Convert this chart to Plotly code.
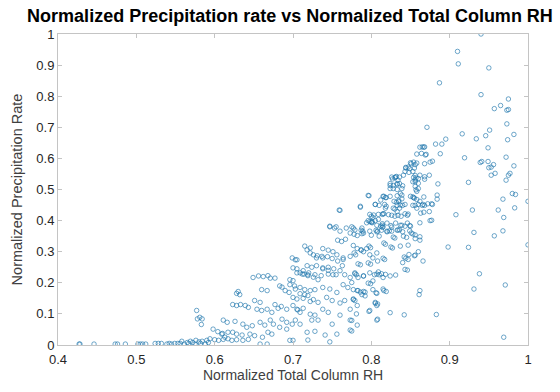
import plotly.graph_objects as go

# (RH, precipitation) pairs, grouped by region
tail_pts = [
    (0.427, 0.003), (0.428, 0.003), (0.446, 0.003), (0.473, 0.003), (0.476, 0.003), (0.486, 0.003),
    (0.502, 0.003), (0.505, 0.003), (0.508, 0.003), (0.512, 0.003), (0.524, 0.005), (0.528, 0.005),
    (0.532, 0.005), (0.539, 0.003), (0.542, 0.005), (0.545, 0.003), (0.549, 0.005), (0.553, 0.005),
    (0.558, 0.012), (0.565, 0.008), (0.569, 0.012), (0.572, 0.008), (0.576, 0.015), (0.580, 0.010),
    (0.584, 0.012), (0.590, 0.015), (0.556, 0.005), (0.561, 0.003), (0.567, 0.005), (0.575, 0.003),
    (0.582, 0.005), (0.588, 0.003), (0.592, 0.008),
]

onset_pts = [
    (0.577, 0.111), (0.581, 0.089), (0.584, 0.084), (0.578, 0.084), (0.583, 0.066),
    (0.594, 0.020), (0.600, 0.017), (0.605, 0.015), (0.611, 0.018), (0.617, 0.020), (0.622, 0.015),
    (0.628, 0.017), (0.636, 0.015), (0.643, 0.018),
    (0.598, 0.051), (0.604, 0.043), (0.610, 0.037), (0.617, 0.041), (0.623, 0.041), (0.628, 0.035),
    (0.635, 0.032), (0.645, 0.035), (0.651, 0.030), (0.661, 0.025), (0.668, 0.041), (0.673, 0.035),
    (0.658, 0.003), (0.667, 0.003), (0.696, 0.015), (0.700, 0.015), (0.728, 0.044),
    (0.611, 0.080), (0.616, 0.073), (0.626, 0.076), (0.636, 0.067), (0.641, 0.057), (0.648, 0.062),
    (0.658, 0.073), (0.664, 0.064), (0.671, 0.080), (0.675, 0.067), (0.686, 0.083), (0.692, 0.073),
    (0.683, 0.057), (0.692, 0.051), (0.703, 0.080), (0.709, 0.067),
    (0.609, 0.035), (0.613, 0.025),
    (0.623, 0.130), (0.628, 0.127), (0.633, 0.130), (0.639, 0.127), (0.643, 0.121), (0.651, 0.143),
    (0.658, 0.137), (0.654, 0.115), (0.660, 0.111), (0.667, 0.115), (0.673, 0.105), (0.677, 0.130),
    (0.681, 0.118), (0.685, 0.124), (0.692, 0.115), (0.700, 0.127), (0.706, 0.113), (0.713, 0.118),
    (0.630, 0.172), (0.632, 0.162), (0.628, 0.166), (0.660, 0.178), (0.667, 0.175), (0.683, 0.190),
    (0.686, 0.186), (0.690, 0.175), (0.695, 0.169), (0.703, 0.180), (0.709, 0.165), (0.715, 0.162),
    (0.719, 0.159),
    (0.649, 0.217), (0.671, 0.215), (0.677, 0.215), (0.696, 0.210), (0.700, 0.207), (0.703, 0.274),
    (0.709, 0.232), (0.714, 0.228), (0.719, 0.226), (0.656, 0.222), (0.662, 0.220), (0.668, 0.223),
    (0.699, 0.280), (0.705, 0.274),
]

core_pts = [
    (0.747, 0.380), (0.753, 0.376), (0.760, 0.366), (0.773, 0.360), (0.778, 0.356), (0.782, 0.352),
    (0.788, 0.358), (0.796, 0.400), (0.800, 0.395), (0.805, 0.400), (0.809, 0.404), (0.814, 0.390),
    (0.790, 0.360), (0.800, 0.353), (0.810, 0.350),
    (0.757, 0.337), (0.762, 0.333), (0.767, 0.340), (0.777, 0.320),
    (0.715, 0.318), (0.722, 0.312), (0.738, 0.310), (0.745, 0.305), (0.751, 0.300),
    (0.782, 0.310), (0.787, 0.305), (0.794, 0.310),
    (0.726, 0.290), (0.730, 0.280), (0.737, 0.285), (0.756, 0.290), (0.764, 0.280), (0.773, 0.285),
    (0.798, 0.290), (0.802, 0.280), (0.808, 0.270),
    (0.700, 0.248), (0.705, 0.245), (0.713, 0.239), (0.719, 0.223), (0.726, 0.218), (0.732, 0.210),
    (0.738, 0.248), (0.745, 0.240), (0.751, 0.226), (0.760, 0.239), (0.766, 0.226), (0.773, 0.217),
    (0.779, 0.232), (0.783, 0.217), (0.790, 0.222), (0.798, 0.232), (0.804, 0.226), (0.809, 0.235),
    (0.815, 0.217), (0.824, 0.222),
    (0.696, 0.194), (0.702, 0.190), (0.709, 0.185), (0.715, 0.178), (0.722, 0.175), (0.728, 0.178),
    (0.738, 0.185), (0.747, 0.180), (0.756, 0.169), (0.764, 0.194), (0.770, 0.185), (0.777, 0.178),
    (0.782, 0.175), (0.788, 0.162), (0.792, 0.170), (0.802, 0.178), (0.806, 0.168), (0.815, 0.180),
    (0.700, 0.153), (0.705, 0.148), (0.713, 0.150), (0.722, 0.140), (0.726, 0.146), (0.732, 0.137),
    (0.743, 0.153), (0.750, 0.143), (0.760, 0.135), (0.766, 0.143), (0.777, 0.146), (0.782, 0.127),
    (0.805, 0.137), (0.807, 0.127),
    (0.705, 0.115), (0.709, 0.105), (0.722, 0.099), (0.728, 0.096), (0.738, 0.115), (0.745, 0.105),
    (0.760, 0.096), (0.773, 0.115), (0.798, 0.111),
    (0.699, 0.067), (0.724, 0.080), (0.732, 0.080), (0.750, 0.067), (0.773, 0.080), (0.782, 0.064),
    (0.807, 0.080), (0.718, 0.041), (0.741, 0.032), (0.756, 0.035), (0.773, 0.048), (0.719, 0.016),
    (0.747, 0.010),
    (0.722, 0.296), (0.718, 0.306), (0.731, 0.287), (0.738, 0.280), (0.744, 0.284), (0.750, 0.278),
    (0.757, 0.270), (0.764, 0.275), (0.718, 0.255), (0.724, 0.250), (0.730, 0.255), (0.738, 0.245),
    (0.745, 0.250), (0.752, 0.245), (0.763, 0.255), (0.705, 0.232), (0.712, 0.228), (0.720, 0.232),
    (0.728, 0.226), (0.736, 0.223), (0.745, 0.228), (0.755, 0.226), (0.759, 0.434),
]

upper_pts = [
    (0.861, 0.162), (0.842, 0.097), (0.824, 0.104), (0.808, 0.083), (0.797, 0.108), (0.781, 0.100),
    (0.775, 0.079), (0.775, 0.045), (0.816, 0.175), (0.819, 0.172), (0.805, 0.134), (0.808, 0.132),
    (0.792, 0.158), (0.807, 0.166),
    (0.843, 0.243), (0.846, 0.241), (0.831, 0.225), (0.855, 0.287), (0.860, 0.300), (0.840, 0.265),
    (0.848, 0.291), (0.862, 0.337),
    (0.874, 0.429), (0.863, 0.424), (0.877, 0.454), (0.868, 0.449), (0.860, 0.452), (0.856, 0.449),
    (0.853, 0.476), (0.855, 0.472), (0.857, 0.499), (0.858, 0.494), (0.853, 0.525), (0.856, 0.530),
    (0.860, 0.520), (0.854, 0.539), (0.857, 0.537), (0.847, 0.572), (0.856, 0.580), (0.851, 0.583),
    (0.844, 0.571), (0.841, 0.546), (0.832, 0.542), (0.836, 0.540), (0.827, 0.534), (0.830, 0.538),
    (0.824, 0.513), (0.833, 0.516), (0.836, 0.519), (0.840, 0.512), (0.837, 0.487), (0.839, 0.482),
    (0.824, 0.503), (0.816, 0.478), (0.818, 0.474), (0.812, 0.466), (0.797, 0.480),
    (0.829, 0.462), (0.832, 0.459), (0.835, 0.461), (0.819, 0.446), (0.818, 0.440), (0.828, 0.440),
    (0.830, 0.437), (0.837, 0.450), (0.843, 0.452), (0.833, 0.429), (0.843, 0.422), (0.847, 0.421),
    (0.805, 0.452), (0.786, 0.443), (0.800, 0.414), (0.802, 0.410), (0.814, 0.420), (0.816, 0.422),
    (0.822, 0.419), (0.798, 0.397), (0.801, 0.393), (0.812, 0.382), (0.814, 0.378), (0.815, 0.380),
    (0.825, 0.384), (0.826, 0.379), (0.839, 0.385), (0.843, 0.382), (0.849, 0.384),
    (0.851, 0.360), (0.853, 0.357), (0.833, 0.369), (0.836, 0.370), (0.820, 0.366), (0.823, 0.367),
    (0.806, 0.369), (0.808, 0.366), (0.787, 0.369), (0.789, 0.366), (0.777, 0.376),
    (0.828, 0.347), (0.830, 0.344), (0.841, 0.350), (0.845, 0.346), (0.856, 0.342), (0.816, 0.328),
    (0.818, 0.324), (0.797, 0.318), (0.799, 0.313), (0.825, 0.315), (0.827, 0.312), (0.847, 0.321),
    (0.837, 0.318), (0.787, 0.306), (0.790, 0.300), (0.807, 0.296), (0.778, 0.296), (0.780, 0.290),
    (0.815, 0.279), (0.817, 0.275), (0.842, 0.283), (0.844, 0.279), (0.847, 0.275), (0.856, 0.289),
    (0.796, 0.264), (0.799, 0.260), (0.783, 0.261), (0.786, 0.258), (0.779, 0.229), (0.781, 0.226),
    (0.790, 0.222), (0.807, 0.228), (0.810, 0.226), (0.813, 0.229), (0.818, 0.227),
    (0.796, 0.199), (0.799, 0.197), (0.802, 0.206), (0.775, 0.201), (0.783, 0.175), (0.786, 0.170),
    (0.777, 0.148), (0.779, 0.143), (0.790, 0.172),
    (0.865, 0.637), (0.868, 0.637), (0.858, 0.614), (0.864, 0.616), (0.870, 0.613), (0.850, 0.586),
    (0.854, 0.588), (0.858, 0.585), (0.844, 0.569), (0.849, 0.567), (0.855, 0.569), (0.875, 0.588),
    (0.843, 0.558), (0.848, 0.555), (0.853, 0.558), (0.826, 0.540), (0.831, 0.540), (0.834, 0.530),
    (0.856, 0.545), (0.860, 0.535), (0.856, 0.525), (0.868, 0.541),
    (0.824, 0.519), (0.828, 0.513), (0.833, 0.519), (0.828, 0.503), (0.833, 0.500), (0.839, 0.503),
    (0.856, 0.510), (0.860, 0.503), (0.815, 0.478), (0.819, 0.474), (0.824, 0.478), (0.833, 0.480),
    (0.835, 0.465), (0.839, 0.470), (0.850, 0.478), (0.854, 0.474), (0.858, 0.468), (0.862, 0.462),
    (0.796, 0.481), (0.786, 0.446), (0.760, 0.433), (0.805, 0.452), (0.810, 0.449), (0.817, 0.452),
    (0.833, 0.449), (0.836, 0.440), (0.840, 0.449), (0.853, 0.449), (0.858, 0.440), (0.865, 0.449),
    (0.798, 0.420), (0.803, 0.418), (0.809, 0.420), (0.815, 0.422), (0.826, 0.417), (0.830, 0.414),
    (0.834, 0.417), (0.838, 0.414), (0.846, 0.417),
    (0.794, 0.393), (0.801, 0.396), (0.807, 0.385), (0.814, 0.385), (0.820, 0.392), (0.831, 0.392),
    (0.837, 0.385), (0.846, 0.392), (0.850, 0.382),
    (0.747, 0.382), (0.755, 0.380), (0.768, 0.376), (0.775, 0.380), (0.779, 0.370), (0.788, 0.376),
    (0.798, 0.366), (0.807, 0.364), (0.813, 0.369), (0.820, 0.364), (0.826, 0.366),
    (0.834, 0.370), (0.840, 0.364), (0.849, 0.367), (0.856, 0.354),
]

outlier_pts = [
    (0.940, 1.000), (0.910, 0.944), (0.911, 0.904), (0.950, 0.891), (0.887, 0.843), (0.940, 0.805),
    (0.975, 0.791), (0.965, 0.770), (0.957, 0.760), (0.973, 0.755), (0.975, 0.757), (0.973, 0.711),
    (0.871, 0.700), (0.951, 0.691), (0.916, 0.679), (0.946, 0.673), (0.982, 0.677), (0.934, 0.663),
    (0.974, 0.660), (0.895, 0.662), (0.882, 0.646), (0.890, 0.646), (0.862, 0.636), (0.867, 0.636),
    (0.949, 0.634), (0.888, 0.615), (0.869, 0.611), (0.919, 0.602), (0.972, 0.604), (0.878, 0.591),
    (0.939, 0.587), (0.941, 0.590), (0.949, 0.590), (0.868, 0.583), (0.956, 0.580), (0.982, 0.576),
    (0.950, 0.570), (0.953, 0.572), (0.958, 0.552), (0.953, 0.546), (0.977, 0.552), (0.975, 0.546),
    (0.972, 0.530), (0.862, 0.546), (0.874, 0.546), (0.868, 0.533), (0.924, 0.523), (0.885, 0.518),
    (0.980, 0.487), (0.984, 0.484), (0.884, 0.482), (0.884, 0.469), (0.867, 0.476), (0.968, 0.469),
    (1.000, 0.462), (0.866, 0.452), (0.872, 0.454), (0.878, 0.452), (0.983, 0.441), (0.929, 0.434),
    (0.962, 0.434), (0.867, 0.427), (0.908, 0.419), (0.969, 0.410), (0.875, 0.400), (0.877, 0.401),
    (0.862, 0.393), (0.931, 0.362), (0.968, 0.367), (0.957, 0.351), (0.862, 0.348), (1.000, 0.322),
    (0.898, 0.315), (0.924, 0.314), (0.866, 0.270), (0.938, 0.229), (0.971, 0.193), (0.931, 0.180),
    (0.862, 0.175), (0.883, 0.098), (0.969, 0.025),
]

x_ticks = [0.4, 0.5, 0.6, 0.7, 0.8, 0.9, 1]
y_ticks = [0, 0.1, 0.2, 0.3, 0.4, 0.5, 0.6, 0.7, 0.8, 0.9, 1]

all_pts = tail_pts + onset_pts + core_pts + upper_pts + outlier_pts
xs = [p[0] for p in all_pts]
ys = [p[1] for p in all_pts]

mk = "rgba(25,115,170,0.7)"
fig = go.Figure(go.Scatter(
    x=xs, y=ys, mode="markers",
    marker=dict(symbol="circle-open", size=4.5, color=mk, line=dict(width=0.9, color=mk)),
    showlegend=False,
))

axis_common = dict(
    showgrid=False, zeroline=False, showline=True, linecolor="#c4c4c4", linewidth=1,
    mirror="ticks", ticks="inside", ticklen=4, tickcolor="#c4c4c4",
    tickfont=dict(family="Liberation Sans, Arial, sans-serif", size=13, color="#262626"),
)

fig.update_layout(
    width=560, height=392,
    margin=dict(l=58, r=32, t=34, b=44),
    paper_bgcolor="white", plot_bgcolor="white",
    title=dict(text="<b>Normalized Precipitation rate vs Normalized Total Column RH</b>",
               x=290 / 560, xanchor="center", y=1 - 16 / 392, yanchor="middle",
               font=dict(family="Liberation Sans, Arial, sans-serif", size=18, color="black")),
    xaxis=dict(range=[0.4, 1], tickvals=x_ticks, ticktext=[str(v) for v in x_ticks],
               ticklabelstandoff=2,
               title=dict(text="Normalized Total Column RH", standoff=4,
                          font=dict(family="Liberation Sans, Arial, sans-serif", size=14, color="#404040")),
               **axis_common),
    yaxis=dict(range=[0, 1], tickvals=y_ticks, ticktext=[str(v) for v in y_ticks],
               title=dict(text="Normalized Precipitation Rate", standoff=10,
                          font=dict(family="Liberation Sans, Arial, sans-serif", size=14.5, color="#404040")),
               **axis_common),
)

fig.write_html("out.html")
